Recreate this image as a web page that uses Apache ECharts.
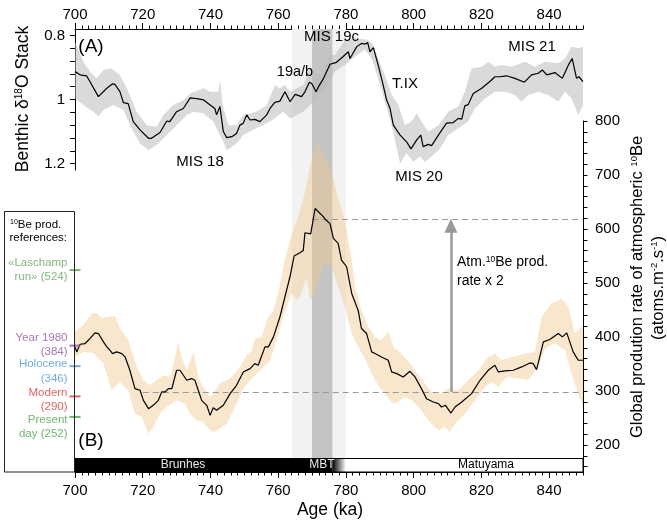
<!DOCTYPE html>
<html><head><meta charset="utf-8">
<script src="https://cdn.jsdelivr.net/npm/echarts@6/dist/echarts.min.js"></script>
<style>html,body{margin:0;padding:0;background:#fff}#c{width:667px;height:521px}</style>
</head><body><div id="c"></div><script>
const FONT = "'Liberation Sans', Arial, Helvetica, sans-serif";

// ---- Panel A: benthic d18O stack ----
const agesA = [700,701.5,703.4,704.4,706.9,709.4,711.1,711.8,713.3,714.3,715.7,717.2,719.2,721.7,722.6,725.1,727.1,728,730,732,734,736.4,737.9,739.9,741.3,741.8,742.8,743.8,744.8,746.3,747.7,748.7,749.7,750.7,751.7,753.1,754.6,756.6,757.6,759,760.5,762,763.5,765,766.9,767.9,769.2,769.9,771.2,771.9,773.4,775.3,777.2,779.2,780.7,781.2,783.2,784.6,785.8,786.4,787.1,788.1,789.5,791,792,793,794,796,797.9,799.2,800.9,802.1,802.8,804.3,805.3,807.3,809.7,811.7,813.2,814.2,815.1,816.1,817.6,820.1,822.5,824,825.5,827.4,829.9,832.7,834.8,836.8,838,839.3,841.7,843.9,845.7,846.8,848.1,848.8,850];
const d18O = [0.913,0.923,0.926,0.944,0.991,0.965,0.951,0.953,0.976,1.010,1.013,1.069,1.095,1.121,1.121,1.103,1.067,1.069,1.038,1.028,0.995,0.998,1.001,1.017,1.028,1.048,1.022,1.100,1.119,1.116,1.106,1.080,1.074,1.048,1.064,1.062,1.069,1.048,1.028,1.009,1.005,0.976,1.007,0.984,0.991,0.976,0.946,0.950,0.976,0.960,0.934,0.890,0.884,0.866,0.851,0.872,0.835,0.825,0.827,0.822,0.851,0.838,0.892,0.955,1.001,1.027,1.080,1.111,1.132,1.154,1.126,1.111,1.147,1.140,1.144,1.111,1.074,1.072,1.059,1.061,1.020,1.016,0.981,0.965,0.944,0.929,0.929,0.926,0.934,0.946,0.923,0.918,0.908,0.923,0.916,0.934,0.892,0.872,0.934,0.929,0.944];
const bandA_loAges = [700,702.5,704.4,706.4,708.4,710.8,713.3,715.3,718.2,721.2,724.1,726.1,729,732,734,737.9,739.9,742.3,742.8,743.6,745.3,747.7,749.7,753.6,756.6,759.1,760.5,762,763.5,767.4,769.4,772.3,775.3,776.8,779.7,782.7,784.6,786.6,788.1,789.5,791.5,793.5,795.5,797.4,799.4,800.9,802.3,804.3,807.3,810.2,813.2,815.1,817.1,820.1,822,824,826,828.9,832.9,835.8,838.8,842.7,844.7,846.6,848.6,850];
const bandA_lo = [0.82,0.882,0.913,0.934,0.908,0.903,0.924,0.965,1.038,1.080,1.085,1.048,1.017,1.002,0.981,0.965,0.976,0.976,0.939,1.017,1.080,1.080,1.048,1.038,1.017,0.955,0.965,0.955,0.976,0.955,0.903,0.924,0.861,0.861,0.814,0.809,0.811,0.814,0.830,0.872,0.924,0.986,1.017,1.080,1.069,1.043,1.069,1.100,1.080,1.038,1.022,0.976,0.903,0.898,0.882,0.898,0.892,0.898,0.882,0.898,0.882,0.887,0.872,0.835,0.840,0.835];
const bandA_hiAges = [700,702.5,705.4,706.9,708.4,711.3,714.3,716.7,719.2,721.7,724.1,727.1,730,733,735,737.9,740.8,743.8,744.8,747.7,749.7,753.6,757.6,761.5,763.5,767.4,771.4,775.3,776.8,779.7,782.7,785.6,787.6,789.5,791.5,793.5,795,796,797.9,799.9,801.9,803.3,805.3,807.8,810.2,813.2,816.1,818.1,821.1,824,827,829.9,831.9,833.8,836.8,839.7,842.7,844.7,846.6,848.6,850];
const bandA_hi = [0.996,1.017,1.038,1.053,1.033,1.017,1.033,1.090,1.137,1.158,1.142,1.111,1.080,1.048,1.038,1.043,1.069,1.132,1.158,1.137,1.111,1.090,1.069,1.038,1.059,1.038,0.996,0.944,0.913,0.892,0.866,0.845,0.872,0.934,1.007,1.080,1.153,1.200,1.168,1.194,1.178,1.194,1.178,1.153,1.111,1.090,1.069,1.027,0.996,0.976,0.976,0.986,1.007,0.986,0.976,0.986,1.007,0.976,0.996,1.048,1.017];

// ---- Panel B: global 10Be production rate ----
const agesB = [700,700.5,701.5,703,704.4,705.9,706.9,708.4,709.4,710.3,711.1,712.3,713.8,714.8,716.2,717.7,719.2,720.2,721.7,723.1,724.6,725.6,726.6,727.6,728.6,730,731,733,734.4,735.4,736.4,737.4,738.9,739.9,740.8,741.8,743.8,745.8,747.7,749.7,751.7,753.1,754.1,756.1,757.1,758.6,760.5,762.5,763.5,764.7,766.4,767.4,767.9,769.6,770.9,773.3,774,775.3,776.3,777.7,778.7,780.2,781.7,783.6,784.6,786.1,787.6,788.6,790.5,792.5,793.5,795,796.9,798.9,800.4,802.3,803.8,805.8,807.3,808.2,809.4,811,812.2,814.2,817.1,819.6,822,824,825,827,829.4,831.9,834.3,835.3,836.3,838.3,840.2,842.7,843.9,845.2,847.1,848.6,850];
const prodB = [381.7,372.4,386.6,387.9,397.1,407.7,406.4,391,381.7,375.5,369.3,372.4,369.3,363.1,338.4,304.4,301.3,282.7,267.3,273.5,282.7,298.2,298.2,304.4,304.4,338.4,338.4,319.9,323,319.9,301.3,282.7,273.5,254.9,269.1,264.2,273.5,295.1,310.6,335.3,341.5,350.7,347.6,381.7,381.7,400.2,437,487,512,550,556,560,593,591,638,623,617,610,582.7,573.4,542.4,530.1,480.6,449.7,415.7,406.4,372.4,369.3,363.1,356.9,335.3,332.2,326,336.5,326,304.4,285.8,279.7,276.6,270.4,273.5,259.2,270.4,279.7,295.1,319.9,338.4,347.6,335.3,337.1,338.4,344.6,352,350.7,339.6,391,395.3,406.4,400.2,407.7,372.4,356.9,356.9];
const bandB_hiAges = [700,702.5,705,706.4,707.9,709.4,711.8,713.3,715.7,718.2,720.2,722.1,724.1,726.1,728.1,729.5,730.5,731.5,733,735,736.4,737.9,739.9,740.8,742.8,745.8,748.7,750.7,752.2,753.1,755.1,756.6,758.6,760,761.5,762.5,764,766,768,769.5,771.7,773.5,776,777.7,779.7,780.7,781.7,782.7,784.6,786.6,788.6,790.5,792.5,794,796.4,798.9,801.4,803.3,805.3,807.8,810.2,813.2,816.1,819.1,822,824,826,828.9,832.9,835.8,837.8,840.7,843.7,845.7,847.6,850];
const bandB_hi = [409.7,422,443.6,444.8,434.3,437.3,438.6,415.7,394,344.6,319.9,310.6,319.9,329.2,326,363.1,390.9,363.1,338.4,372.4,326,307.5,289,295.1,313.7,323,344.6,366.2,375.5,397.1,400.2,431.1,449.7,480.6,530.1,555,590,625,670,720,761,735,700,655,616.7,579.5,542.4,493,449.7,418.8,400.2,394,409.5,381.7,369.3,350.7,329.2,313.7,298.2,295.1,304.4,301.3,319.9,338.4,363.1,369.3,356.9,363.1,369.3,372.4,437.3,462,471.3,455.8,406.4,421.9];
const bandB_loAges = [700,702.5,705.4,708.4,710.8,713.3,715.7,717.7,719.7,721.7,723.1,725.1,727.1,730,732.5,733.9,735.9,737.9,739.4,740.8,742.8,744.8,747.7,749.7,752.7,755.6,757.6,759.5,761.5,764,765.5,766.4,768.4,769.4,770.9,773.3,775.8,777.7,779.7,781.7,783.6,785.6,787.6,789.5,791.5,793.5,794.5,797.4,799.4,802.3,804.3,807.3,809.2,810.7,812.2,815.1,818.1,821.1,823,825,827.4,830.9,833.8,836.8,838.8,841.7,844.7,846.6,848.6,850];
const bandB_lo = [363.1,372.4,370.6,350.7,301.3,316.8,301.3,258,251.8,220.9,233.3,258,270.4,282.7,276.6,258,245.7,242.6,230.2,224,230.2,239.5,276.6,304.4,326,344.6,357,394,437.3,480.6,468.2,474.4,511.5,468.2,480.6,536.3,530.1,493,455.9,406.4,381.7,360.1,332.2,310.6,295.1,279.7,276.6,289,282.7,264.2,245.7,227.1,233.3,224,239.5,258,282.7,307.5,316.8,307.5,326,323,319.9,344.6,378.6,387.9,375.5,332.2,295.1,270.4];

// reference production rates
const refNames = ['«Laschamp\nrun» (524)', 'Year 1980\n(384)', 'Holocene\n(346)', 'Modern\n(290)', 'Present\nday (252)'];
const refValues = [524, 384, 346, 290, 252];
const refColors = ['#5fa55a', '#8e55a0', '#4a98d8', '#d93a3a', '#4ea04e'];
const refLabelShift = [0, -1, 5, 3.5, 10];

// reference levels, periods, polarity
const baseLevel = 298, doubledLevel = 618, arrowAge = 811;
const lightBand = [764, 780], darkBand = [770, 776];
const brunhes = [700, 776], mbtFade = [776, 780], matuyama = [780, 850];
const barRange = [150, 175];

const xMajor = [700,720,740,760,780,800,820,840];
const xMinor = []; for (let a = 700; a <= 850; a += 2) xMinor.push(a);
const yTicksA = [0.8,0.84,0.88,0.92,0.96,1.0,1.04,1.08,1.12,1.16,1.2];
const yLabelsA = [0.8, 1, 1.2];
const yTicksB = []; for (let v = 160; v <= 800; v += 20) yTicksB.push(v);
const yLabelsB = [200,300,400,500,600,700,800];

function zipXY(xs, ys) { return xs.map((x, i) => [x, ys[i]]); }

function polygonSeries(loAges, lo, hiAges, hi, xi, yi, color, z) {
  return {
    type: 'custom', xAxisIndex: xi, yAxisIndex: yi, z: z, silent: true,
    data: [[loAges[0], lo[0]]],
    renderItem: function (params, api) {
      const pts = [];
      for (let i = 0; i < loAges.length; i++) pts.push(api.coord([loAges[i], lo[i]]));
      for (let i = hiAges.length - 1; i >= 0; i--) pts.push(api.coord([hiAges[i], hi[i]]));
      return { type: 'polygon', shape: { points: pts }, style: { fill: color } };
    }
  };
}

const chart = echarts.init(document.getElementById('c'), null, { renderer: 'canvas' });
const axisCommon = {
  type: 'value', splitLine: { show: false },
  axisLine: { show: true, onZero: false, lineStyle: { color: '#000', width: 1 } },
  axisTick: { show: true, lineStyle: { color: '#000' } },
  axisLabel: { color: '#000', fontFamily: FONT, fontSize: 15 }
};
function majorTickAxis(grid, pos) {
  return { type: 'value', gridIndex: grid, position: pos, min: 700, max: 850, interval: 20,
    splitLine: { show: false }, axisLine: { show: false, onZero: false }, axisLabel: { show: false },
    axisTick: { show: true, length: 6, customValues: xMajor, lineStyle: { color: '#000' } } };
}

const sup = { fontSize: 8, verticalAlign: 'top', lineHeight: 10, fontFamily: FONT, fill: '#000' };
function ctext(x, y, text, size, color) {
  return { type: 'text', z: 20, x: x, y: y, style: { text: text, fill: color || '#000', font: size + 'px ' + FONT,
    textAlign: 'center', align: 'center', textVerticalAlign: 'middle', verticalAlign: 'middle' } };
}

const option = {
  animation: false,
  backgroundColor: '#fff',
  grid: [
    { left: 75, right: 84, top: 29, height: 141 },
    { left: 75, right: 84, top: 121, height: 351 },
    { left: 75, right: 84, top: 29, height: 141 },
    { left: 75, right: 84, top: 121, height: 351 }
  ],
  xAxis: [
    Object.assign({}, axisCommon, { gridIndex: 0, position: 'top', min: 700, max: 850, interval: 20,
      axisTick: { length: 3.5, customValues: xMinor, lineStyle: { color: '#000' } },
      axisLabel: Object.assign({}, axisCommon.axisLabel, { customValues: xMajor, margin: 7 }) }),
    Object.assign({}, axisCommon, { gridIndex: 1, position: 'bottom', min: 700, max: 850, interval: 20,
      axisTick: { length: 3.5, customValues: xMinor, lineStyle: { color: '#000' } },
      axisLabel: Object.assign({}, axisCommon.axisLabel, { customValues: xMajor, margin: 11 }) }),
    majorTickAxis(2, 'top'),
    majorTickAxis(3, 'bottom')
  ],
  yAxis: [
    Object.assign({}, axisCommon, { gridIndex: 0, position: 'left', inverse: true, min: 0.78, max: 1.22,
      axisTick: { length: 5, customValues: yTicksA, lineStyle: { color: '#000' } },
      axisLabel: Object.assign({}, axisCommon.axisLabel, { customValues: yLabelsA, margin: 10,
        formatter: v => String(Math.round(v * 100) / 100) }) }),
    Object.assign({}, axisCommon, { gridIndex: 1, position: 'right', min: 150, max: 800,
      axisTick: { length: 4.5, customValues: yTicksB, lineStyle: { color: '#000' } },
      axisLabel: Object.assign({}, axisCommon.axisLabel, { customValues: yLabelsB, margin: 12 }) }),
    { type: 'value', gridIndex: 2, show: false, min: 1, max: 2, axisLine: { onZero: false } },
    { type: 'value', gridIndex: 3, show: false, min: 1, max: 2, axisLine: { onZero: false } }
  ],
  series: [
    { type: 'line', xAxisIndex: 0, yAxisIndex: 0, data: [], z: 1, silent: true,
      markArea: { silent: true, data: [
        [{ xAxis: lightBand[0], itemStyle: { color: '#f2f2f2' } }, { xAxis: lightBand[1] }],
        [{ xAxis: darkBand[0], itemStyle: { color: '#c4c4c4' } }, { xAxis: darkBand[1] }]
      ] } },
    { type: 'line', xAxisIndex: 1, yAxisIndex: 1, data: [], z: 1, silent: true,
      markArea: { silent: true, data: [
        [{ xAxis: lightBand[0], yAxis: barRange[1], itemStyle: { color: '#f2f2f2' } }, { xAxis: lightBand[1], yAxis: 800 }],
        [{ xAxis: darkBand[0], yAxis: barRange[1], itemStyle: { color: '#c4c4c4' } }, { xAxis: darkBand[1], yAxis: 800 }]
      ] } },
    polygonSeries(bandA_loAges, bandA_lo, bandA_hiAges, bandA_hi, 0, 0, 'rgba(185,188,188,0.55)', 2),
    polygonSeries(bandB_loAges, bandB_lo, bandB_hiAges, bandB_hi, 1, 1, 'rgba(240,200,145,0.45)', 2),
    { type: 'line', xAxisIndex: 0, yAxisIndex: 0, data: zipXY(agesA, d18O), z: 5,
      showSymbol: false, symbol: 'none', lineStyle: { color: '#000', width: 1.2 } },
    { type: 'line', xAxisIndex: 1, yAxisIndex: 1, data: zipXY(agesB, prodB), z: 5,
      showSymbol: false, symbol: 'none', lineStyle: { color: '#000', width: 1.2 } },
    { type: 'line', xAxisIndex: 1, yAxisIndex: 1, data: [], z: 6, silent: true,
      markLine: { silent: true, symbol: 'none', label: { show: false },
        lineStyle: { color: '#9a9a9a', type: [6, 4], width: 1 },
        data: [
          [{ coord: [720, baseLevel] }, { coord: [850, baseLevel] }],
          [{ coord: [darkBand[0], doubledLevel] }, { coord: [850, doubledLevel] }]
        ] } },
    { type: 'line', xAxisIndex: 1, yAxisIndex: 1, data: [], z: 6, silent: true,
      markLine: { silent: true, symbol: ['none', 'triangle'], symbolSize: [13, 14], label: { show: false },
        lineStyle: { color: '#9a9a9a', type: 'solid', width: 2.5 },
        data: [[{ coord: [arrowAge, baseLevel] }, { coord: [arrowAge, doubledLevel - 12] }]] } },
    { type: 'line', xAxisIndex: 1, yAxisIndex: 1, data: [], z: 7, silent: true,
      markArea: { silent: true, data: [
        [{ xAxis: brunhes[0], yAxis: barRange[0], itemStyle: { color: '#000' } }, { xAxis: brunhes[1], yAxis: barRange[1] }],
        [{ xAxis: mbtFade[0], yAxis: barRange[0], itemStyle: { color: new echarts.graphic.LinearGradient(0, 0, 1, 0, [{ offset: 0, color: '#000' }, { offset: 1, color: '#fff' }]) } }, { xAxis: mbtFade[1], yAxis: barRange[1] }],
        [{ xAxis: matuyama[0], yAxis: barRange[0], itemStyle: { color: '#fff' } }, { xAxis: matuyama[1], yAxis: barRange[1] }],
        [{ xAxis: 700, yAxis: barRange[0], itemStyle: { color: 'rgba(0,0,0,0)', borderColor: '#000', borderWidth: 1 } }, { xAxis: 850, yAxis: barRange[1] }]
      ] } },
    { type: 'scatter', xAxisIndex: 1, yAxisIndex: 1, z: 8, clip: false, silent: true,
      symbol: 'rect', symbolSize: [11, 2],
      data: refValues.map((v, i) => ({
        value: [700, v], itemStyle: { color: refColors[i] },
        label: { show: true, position: 'left', distance: 2, formatter: refNames[i], color: refColors[i],
          fontFamily: FONT, fontSize: 11.5, lineHeight: 14.5, align: 'right', offset: [0, refLabelShift[i]] }
      })) }
  ],
  graphic: [
    { type: 'rect', z: 20, shape: { x: 4.5, y: 211.5, width: 70, height: 260.5 }, style: { fill: 'none', stroke: '#222', lineWidth: 1 } },
    { type: 'text', z: 20, x: 10, y: 225, style: { text: '{s|10}Be prod.', fill: '#000', font: '11.5px ' + FONT, textVerticalAlign: 'middle', verticalAlign: 'middle',
      rich: { s: Object.assign({}, sup, { fontSize: 7 }) } } },
    { type: 'text', z: 20, x: 9.5, y: 238, style: { text: 'references:', fill: '#000', font: '11.5px ' + FONT, textVerticalAlign: 'middle', verticalAlign: 'middle' } },
    { type: 'text', z: 20, x: 23, y: 99, rotation: Math.PI / 2,
      style: { text: 'Benthic δ{s|18}O Stack', fill: '#000', font: '17.5px ' + FONT, textAlign: 'center', align: 'center', textVerticalAlign: 'middle', verticalAlign: 'middle',
        rich: { s: Object.assign({}, sup, { fontSize: 10, lineHeight: 12 }) } } },
    { type: 'text', z: 20, x: 637.5, y: 287, rotation: Math.PI / 2,
      style: { text: 'Global prodution rate of atmospheric {s|10}Be', fill: '#000', font: '16.5px ' + FONT, textAlign: 'center', align: 'center', textVerticalAlign: 'middle', verticalAlign: 'middle',
        rich: { s: Object.assign({}, sup, { fontSize: 9.5, lineHeight: 11 }) } } },
    { type: 'text', z: 20, x: 658, y: 288, rotation: Math.PI / 2,
      style: { text: '(atoms.m{s|-2}.s{s|-1})', fill: '#000', font: '16.5px ' + FONT, textAlign: 'center', align: 'center', textVerticalAlign: 'middle', verticalAlign: 'middle',
        rich: { s: Object.assign({}, sup, { fontSize: 9.5, lineHeight: 11 }) } } },
    ctext(330, 510, 'Age (ka)', 17.5),
    ctext(91, 47, '(A)', 19),
    ctext(91, 441, '(B)', 19),
    ctext(331.5, 37, 'MIS 19c', 15),
    ctext(295, 72, '19a/b', 14.5),
    ctext(405, 84, 'T.IX', 15),
    ctext(532, 47, 'MIS 21', 15),
    ctext(200, 162, 'MIS 18', 15),
    ctext(419, 177, 'MIS 20', 15),
    { type: 'text', z: 20, x: 457, y: 262, style: { text: 'Atm.{s|10}Be prod.', fill: '#000', font: '14px ' + FONT, textVerticalAlign: 'middle', verticalAlign: 'middle',
      rich: { s: Object.assign({}, sup, { fontSize: 8.5, lineHeight: 10 }) } } },
    { type: 'text', z: 20, x: 457, y: 281, style: { text: 'rate x 2', fill: '#000', font: '14px ' + FONT, textVerticalAlign: 'middle', verticalAlign: 'middle' } },
    ctext(183, 465, 'Brunhes', 12, '#e8e8e8'),
    ctext(322, 465, 'MBT', 12, '#e8e8e8'),
    ctext(486, 465, 'Matuyama', 12, '#000')
  ]
};
chart.setOption(option);
</script></body></html>
